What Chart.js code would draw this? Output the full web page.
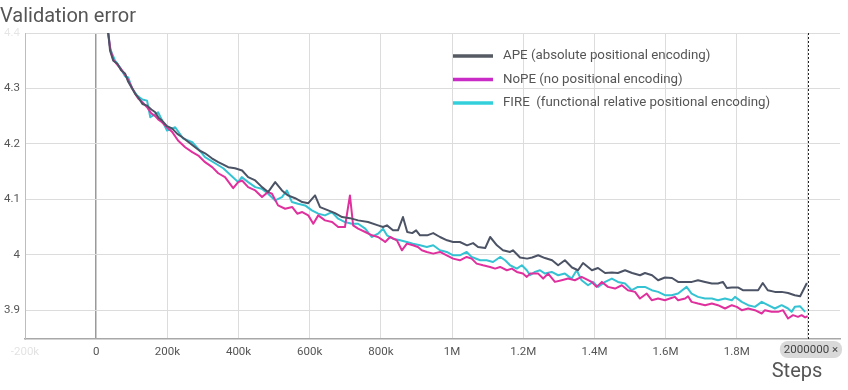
<!DOCTYPE html>
<html><head><meta charset="utf-8">
<script src="https://cdn.jsdelivr.net/npm/chart.js@4.4.1/dist/chart.umd.min.js"></script>
<style>html,body{margin:0;padding:0;background:#fff;}#wrap{width:848px;height:390px;}</style>
</head><body><div id="wrap"><canvas id="c" width="848" height="390"></canvas></div>
<script>
const seriesNames = ['APE (absolute positional encoding)', 'NoPE (no positional encoding)', 'FIRE  (functional relative positional encoding)'];

const apeSteps = [25000,34000,39000,48000,59000,70000,81000,90000,101000,110000,118000,130000,143000,155000,166000,175000,185000,199000,213000,228000,242000,260000,278000,290000,306000,325000,343000,356000,371000,390000,410000,427000,447000,466000,483000,503000,522000,539000,559000,579000,596000,615000,629000,652000,671000,691000,713000,736000,764000,792000,806000,817000,834000,848000,862000,874000,888000,899000,910000,930000,947000,966000,986000,1003000,1022000,1042000,1059000,1073000,1093000,1107000,1126000,1143000,1163000,1171000,1191000,1211000,1225000,1242000,1261000,1281000,1298000,1317000,1337000,1354000,1368000,1393000,1410000,1430000,1449000,1466000,1486000,1506000,1528000,1542000,1562000,1579000,1598000,1618000,1635000,1655000,1674000,1691000,1711000,1730000,1747000,1761000,1772000,1786000,1803000,1817000,1843000,1860000,1873000,1887000,1907000,1926000,1944000,1963000,1978000,1997000];
const apeValues = [4.44,4.399,4.368,4.350,4.345,4.333,4.327,4.312,4.300,4.290,4.284,4.272,4.269,4.262,4.257,4.247,4.242,4.232,4.228,4.218,4.212,4.203,4.194,4.188,4.183,4.174,4.167,4.163,4.158,4.156,4.152,4.140,4.134,4.122,4.113,4.131,4.116,4.107,4.102,4.095,4.093,4.107,4.086,4.080,4.075,4.068,4.066,4.062,4.059,4.053,4.050,4.053,4.044,4.044,4.068,4.041,4.039,4.044,4.035,4.035,4.039,4.032,4.026,4.023,4.023,4.017,4.021,4.014,4.012,4.032,4.017,4.008,4.005,4.008,3.995,3.993,3.995,3.999,3.994,3.990,3.981,3.990,3.977,3.972,3.985,3.972,3.976,3.967,3.968,3.967,3.972,3.967,3.963,3.967,3.963,3.954,3.959,3.958,3.951,3.951,3.951,3.954,3.951,3.948,3.948,3.951,3.940,3.941,3.941,3.936,3.936,3.936,3.949,3.936,3.933,3.933,3.931,3.927,3.925,3.949];

const nopeSteps = [25000,34000,40000,48000,59000,70000,81000,90000,101000,110000,118000,130000,143000,155000,166000,176000,185000,199000,213000,230000,250000,270000,287000,306000,326000,343000,362000,385000,399000,410000,427000,447000,466000,483000,494000,511000,531000,551000,565000,579000,596000,610000,624000,643000,663000,680000,699000,713000,722000,736000,756000,775000,792000,806000,812000,826000,845000,859000,873000,890000,904000,915000,929000,947000,966000,985000,1003000,1022000,1041000,1055000,1069000,1087000,1107000,1121000,1135000,1154000,1168000,1182000,1199000,1210000,1219000,1242000,1256000,1270000,1289000,1308000,1326000,1345000,1364000,1374000,1392000,1406000,1421000,1438000,1458000,1477000,1494000,1514000,1528000,1547000,1561000,1579000,1598000,1612000,1626000,1635000,1655000,1663000,1673000,1691000,1711000,1730000,1747000,1767000,1786000,1800000,1814000,1832000,1851000,1870000,1879000,1898000,1916000,1930000,1944000,1958000,1972000,1982000,1992000,1999000];
const nopeValues = [4.44,4.399,4.370,4.352,4.343,4.335,4.325,4.315,4.301,4.290,4.282,4.275,4.266,4.255,4.250,4.243,4.239,4.230,4.222,4.206,4.194,4.185,4.179,4.167,4.158,4.147,4.140,4.120,4.131,4.134,4.122,4.116,4.104,4.113,4.110,4.089,4.083,4.086,4.074,4.077,4.071,4.056,4.071,4.062,4.059,4.050,4.050,4.107,4.053,4.047,4.041,4.035,4.032,4.026,4.023,4.032,4.026,4.008,4.020,4.017,4.014,4.008,4.005,4.002,4.005,3.999,3.993,3.990,3.996,3.993,3.984,3.981,3.978,3.975,3.978,3.972,3.975,3.969,3.966,3.960,3.966,3.966,3.957,3.966,3.951,3.954,3.957,3.954,3.960,3.957,3.951,3.942,3.951,3.942,3.939,3.945,3.936,3.933,3.921,3.930,3.918,3.921,3.918,3.921,3.924,3.918,3.921,3.925,3.915,3.912,3.909,3.912,3.909,3.903,3.909,3.906,3.900,3.903,3.900,3.894,3.900,3.897,3.897,3.900,3.885,3.891,3.888,3.891,3.887,3.889];

const fireSteps = [25000,34000,40000,53000,67000,81000,90000,101000,115000,130000,143000,152000,174000,199000,222000,244000,270000,287000,306000,334000,357000,382000,399000,409000,427000,447000,465000,483000,503000,522000,536000,550000,567000,587000,606000,624000,643000,662000,680000,699000,718000,736000,756000,774000,792000,806000,817000,834000,854000,873000,890000,910000,929000,947000,966000,985000,1003000,1022000,1041000,1055000,1079000,1097000,1115000,1135000,1149000,1163000,1182000,1196000,1210000,1219000,1233000,1247000,1261000,1280000,1298000,1317000,1336000,1350000,1364000,1382000,1396000,1410000,1430000,1449000,1466000,1486000,1505000,1522000,1542000,1561000,1579000,1598000,1617000,1635000,1659000,1673000,1691000,1711000,1730000,1747000,1767000,1786000,1795000,1814000,1832000,1851000,1870000,1888000,1907000,1926000,1944000,1954000,1963000,1978000,1992000];
const fireValues = [4.44,4.399,4.370,4.350,4.338,4.322,4.320,4.300,4.287,4.280,4.278,4.248,4.257,4.224,4.230,4.210,4.203,4.191,4.176,4.165,4.156,4.141,4.131,4.140,4.131,4.122,4.119,4.110,4.098,4.104,4.116,4.095,4.092,4.089,4.080,4.074,4.071,4.077,4.065,4.059,4.056,4.056,4.047,4.032,4.038,4.047,4.035,4.029,4.026,4.023,4.020,4.017,4.014,4.017,4.008,4.005,3.999,3.999,4.005,3.996,3.990,3.990,3.987,3.996,3.990,3.981,3.975,3.981,3.972,3.963,3.969,3.972,3.966,3.969,3.963,3.966,3.957,3.972,3.954,3.945,3.951,3.942,3.951,3.957,3.951,3.948,3.936,3.942,3.942,3.936,3.933,3.927,3.927,3.930,3.942,3.930,3.924,3.921,3.921,3.918,3.921,3.918,3.924,3.915,3.909,3.906,3.915,3.909,3.903,3.909,3.903,3.897,3.906,3.907,3.897];

const xTickValues = [-200000,0,200000,400000,600000,800000,1000000,1200000,1400000,1600000,1800000,2000000];
const xTickLabels = ['-200k','0','200k','400k','600k','800k','1M','1.2M','1.4M','1.6M','1.8M',''];
const yTickValues = [3.9,4.0,4.1,4.2,4.3,4.4];
const yTickLabels = ['3.9','4','4.1','4.2','4.3','4.4'];
const cursorStep = 2000000;
const cursorLabel = '2000000 ×';
const xAxisTitle = 'Steps';
const chartTitle = 'Validation error';

const lineColors = ['#4b5365', '#e0309e', '#35c3d3'];
const legendColors = ['#555a63', '#c92bc6', '#33d0dc'];

function pairs(xs, ys){ return xs.map((x,i)=>({x:x, y:ys[i]})); }

const overlayPlugin = {
  id: 'overlay',
  afterDatasetsDraw(chart){
    const ctx = chart.ctx, xs = chart.scales.x, area = chart.chartArea;
    const px = Math.round(xs.getPixelForValue(cursorStep)) + 0.5;
    ctx.save();
    ctx.strokeStyle = '#222';
    ctx.lineWidth = 1;
    ctx.setLineDash([2,2]);
    ctx.beginPath(); ctx.moveTo(px, area.top); ctx.lineTo(px, area.bottom); ctx.stroke();
    ctx.restore();
  },
  afterDraw(chart){
    const ctx = chart.ctx, xs = chart.scales.x, area = chart.chartArea;
    ctx.save();
    ctx.font = '13.3px Roboto, "Liberation Sans", sans-serif';
    ctx.textBaseline = 'middle';
    chart.data.datasets.forEach((ds, i) => {
      const y = 56 + i * 23.5;
      ctx.strokeStyle = legendColors[i];
      ctx.lineWidth = 3.5;
      ctx.setLineDash([]);
      ctx.beginPath(); ctx.moveTo(453, y); ctx.lineTo(493, y); ctx.stroke();
      ctx.fillStyle = '#555';
      ctx.fillText(ds.label, 503, y);
    });
    const cx = xs.getPixelForValue(cursorStep) + 3;
    ctx.font = '11.5px Roboto, "Liberation Sans", sans-serif';
    const tw = ctx.measureText(cursorLabel).width;
    const bw = tw + 8, bh = 17, bx = cx - bw/2, by = area.bottom + 2;
    ctx.fillStyle = '#d9d9d9';
    ctx.beginPath();
    ctx.roundRect(bx, by, bw, bh, 8);
    ctx.fill();
    ctx.fillStyle = '#444';
    ctx.textAlign = 'center';
    ctx.fillText(cursorLabel, cx, by + bh/2 + 0.5);
    ctx.font = '20px Roboto, "Liberation Sans", sans-serif';
    ctx.fillStyle = '#555';
    ctx.textAlign = 'center';
    ctx.fillText(xAxisTitle, 797, 372);
    ctx.restore();
  }
};

new Chart(document.getElementById('c'), {
  type: 'line',
  data: {
    datasets: [
      { label: seriesNames[0], data: pairs(apeSteps, apeValues), borderColor: lineColors[0] },
      { label: seriesNames[1], data: pairs(nopeSteps, nopeValues), borderColor: lineColors[1] },
      { label: seriesNames[2], data: pairs(fireSteps, fireValues), borderColor: lineColors[2] }
    ]
  },
  options: {
    responsive: false,
    animation: false,
    parsing: false,
    layout: { padding: { left: 0, right: 8, top: 0, bottom: 0 } },
    elements: { point: { radius: 0 }, line: { borderWidth: 2, tension: 0, borderJoinStyle: 'round' } },
    plugins: {
      legend: { display: false },
      tooltip: { enabled: false },
      title: {
        display: true, text: chartTitle, align: 'start', color: '#555',
        font: { family: 'Roboto, "Liberation Sans", sans-serif', size: 20, weight: 'normal' },
        padding: { top: 5, bottom: 4 }
      }
    },
    scales: {
      x: {
        type: 'linear', min: -200000, max: 2090000,
        afterBuildTicks(s){ s.ticks = xTickValues.map(v => ({ value: v })); },
        afterFit(s){ s.height = 51; },
        border: { color: '#a8a8a8', width: 1.5 },
        grid: {
          drawTicks: false,
          color: c => (c.tick && c.tick.value === 0) ? '#9a9a9a' : '#dcdcdc',
          lineWidth: c => (c.tick && c.tick.value === 0) ? 1.5 : 1
        },
        ticks: {
          padding: 6, autoSkip: false, maxRotation: 0,
          font: { family: 'Roboto, "Liberation Sans", sans-serif', size: 11.5 },
          color: c => c.tick.value === -200000 ? 'rgba(0,0,0,0.12)' : '#555',
          callback: (v) => { const i = xTickValues.indexOf(v); return i >= 0 ? xTickLabels[i] : ''; }
        }
      },
      y: {
        type: 'linear', min: 3.848, max: 4.4,
        afterBuildTicks(s){ s.ticks = yTickValues.map(v => ({ value: v })); },
        afterFit(s){ s.width = 25; },
        border: { color: '#bdbdbd', width: 1 },
        grid: { drawTicks: false, color: '#dcdcdc', lineWidth: 1 },
        ticks: {
          padding: 5,
          font: { family: 'Roboto, "Liberation Sans", sans-serif', size: 11.5 },
          color: c => c.tick.value === 4.4 ? 'rgba(0,0,0,0.1)' : '#555',
          callback: (v) => { const i = yTickValues.findIndex(t => Math.abs(t - v) < 1e-9); return i >= 0 ? yTickLabels[i] : ''; }
        }
      }
    }
  },
  plugins: [overlayPlugin]
});
</script>
</body></html>
